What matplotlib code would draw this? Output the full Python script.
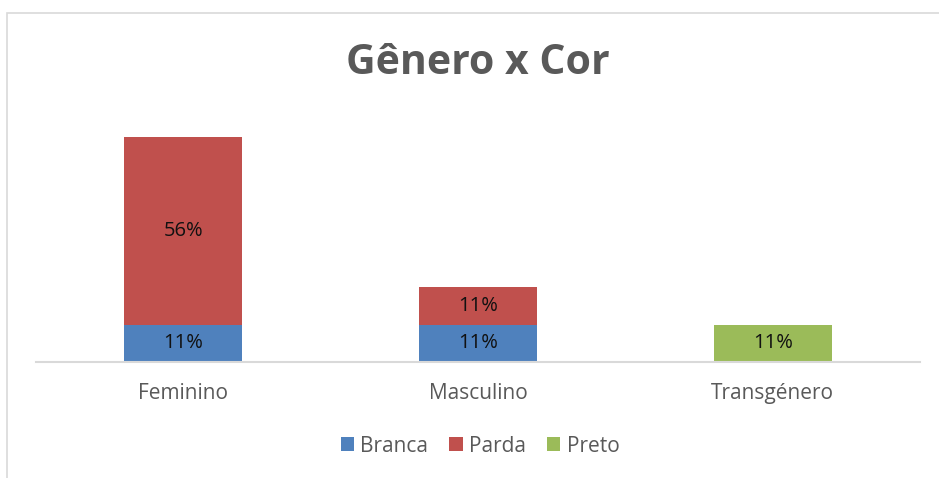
import matplotlib.pyplot as plt
from matplotlib.patches import Rectangle

plt.rcParams['font.family'] = ['Open Sans', 'DejaVu Sans']

# Data
generos = ['Feminino', 'Masculino', 'Transgénero']
branca = [11.11, 11.11, 0]
parda = [55.56, 11.11, 0]
preto = [0, 0, 11.11]
series = [('Branca', branca, '#4F81BD'), ('Parda', parda, '#C0504D'), ('Preto', preto, '#9BBB59')]

W, H = 939, 478
fig = plt.figure(figsize=(W / 100, H / 100), dpi=100)

# chart border (only left/top visible in the crop)
fig.patches.append(Rectangle((7 / W, -0.1), 1.2, 1 - 13 / H + 0.1, transform=fig.transFigure,
                             fill=False, edgecolor='#D9D9D9', linewidth=1.2))

ax = fig.add_axes([36 / W, (H - 362) / H, (920 - 36) / W, (362 - 126) / H])
x = list(range(len(generos)))
bottom = [0] * len(generos)
handles = []
for name, vals, col in series:
    bars = ax.bar(x, vals, width=0.4, bottom=bottom, color=col, edgecolor='none', label=name)
    handles.append(bars)
    for xi, v, b in zip(x, vals, bottom):
        if v > 0:
            ax.text(xi, b + v / 2, f'{round(v)}%', ha='center', va='center',
                    fontsize=14.5, color='#111111')
    bottom = [b + v for b, v in zip(bottom, vals)]

ax.set_xlim(-0.5, 2.5)
ax.set_ylim(0, 70)
ax.set_yticks([])
ax.set_xticks(x)
ax.set_xticklabels(generos, fontsize=15, color='#595959')
ax.tick_params(axis='x', length=0, pad=15)
for s in ['top', 'right', 'left']:
    ax.spines[s].set_visible(False)
ax.spines['bottom'].set_color('#D9D9D9')
ax.spines['bottom'].set_linewidth(1.5)

fig.text(478 / W, 1 - 64 / H, 'Gênero x Cor', ha='center', va='center',
         fontsize=29.5, fontweight='bold', color='#595959')

fig.legend(handles=handles, loc='center', bbox_to_anchor=(480 / W, 1 - 446 / H), ncol=3,
           frameon=False, fontsize=15, handlelength=0.65, handleheight=0.65,
           handletextpad=0.3, columnspacing=1.0, labelcolor='#595959')

fig.savefig('out.png', dpi=100)
